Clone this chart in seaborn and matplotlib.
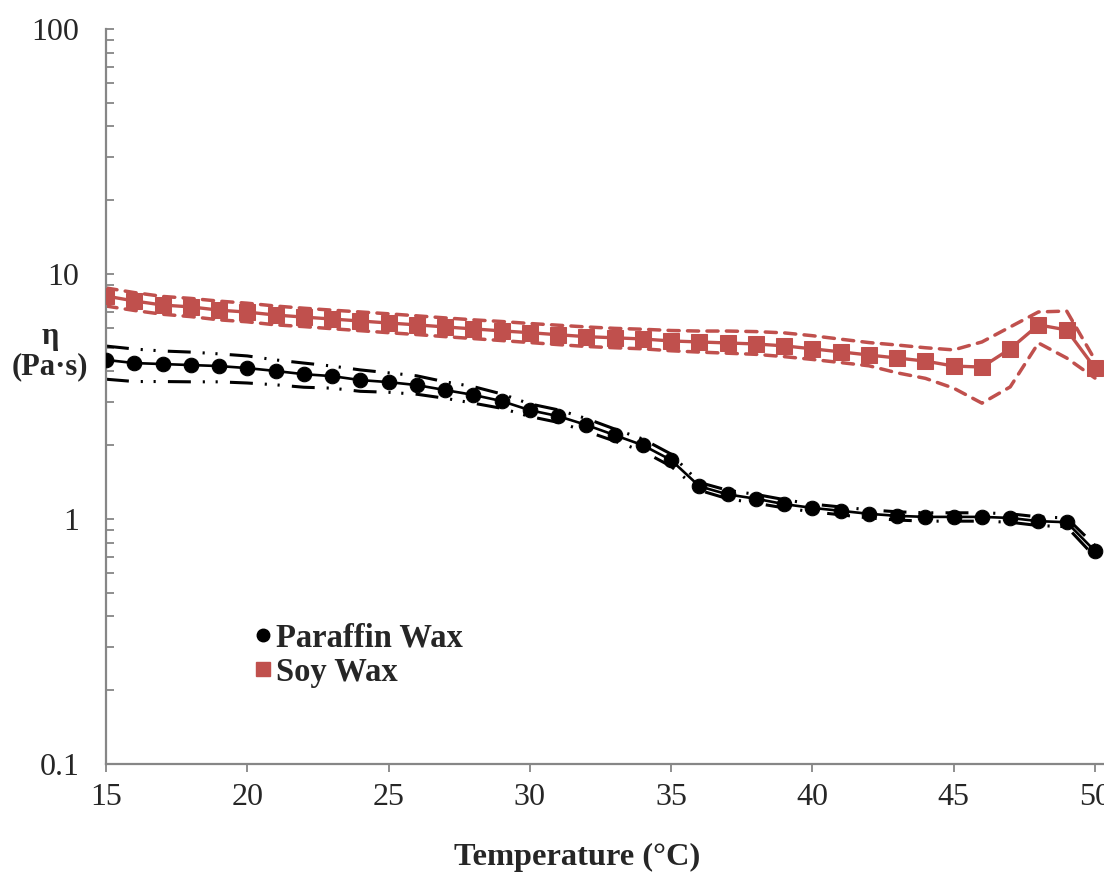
import matplotlib
matplotlib.use("Agg")
import matplotlib.pyplot as plt
import seaborn as sns
import numpy as np
from matplotlib.lines import Line2D
from matplotlib.ticker import LogLocator, FixedLocator, FixedFormatter, NullFormatter

# ---------------- data ----------------
temperature = [15, 16, 17, 18, 19, 20, 21, 22, 23, 24, 25, 26, 27, 28, 29, 30, 31, 32,
               33, 34, 35, 36, 37, 38, 39, 40, 41, 42, 43, 44, 45, 46, 47, 48, 49, 50]

paraffin = [4.46, 4.33, 4.29, 4.25, 4.21, 4.13, 4.02, 3.90, 3.83, 3.69, 3.62, 3.52,
            3.36, 3.21, 3.03, 2.78, 2.63, 2.42, 2.20, 2.00, 1.74, 1.36, 1.26, 1.21,
            1.15, 1.11, 1.08, 1.05, 1.03, 1.02, 1.02, 1.02, 1.01, 0.98, 0.97, 0.74]
paraffin_upper = [5.08, 4.94, 4.85, 4.80, 4.72, 4.63, 4.46, 4.33, 4.21, 4.06, 3.95, 3.84,
                  3.63, 3.47, 3.24, 2.95, 2.79, 2.57, 2.33, 2.12, 1.84, 1.41, 1.31, 1.26,
                  1.20, 1.15, 1.12, 1.09, 1.07, 1.06, 1.06, 1.06, 1.05, 1.02, 1.01, 0.78]
paraffin_lower = [3.72, 3.64, 3.64, 3.63, 3.63, 3.59, 3.53, 3.45, 3.42, 3.32, 3.29, 3.23,
                  3.11, 2.97, 2.83, 2.62, 2.48, 2.28, 2.08, 1.89, 1.64, 1.31, 1.21, 1.16,
                  1.11, 1.07, 1.04, 1.01, 0.99, 0.98, 0.98, 0.98, 0.97, 0.94, 0.93, 0.70]

soy = [8.13, 7.76, 7.47, 7.34, 7.12, 6.99, 6.80, 6.67, 6.55, 6.43, 6.31, 6.20,
       6.08, 5.97, 5.86, 5.76, 5.65, 5.55, 5.49, 5.43, 5.33, 5.28, 5.23, 5.18,
       5.09, 4.95, 4.81, 4.67, 4.54, 4.41, 4.21, 4.17, 4.95, 6.20, 5.91, 4.13]
soy_upper = [8.77, 8.40, 8.10, 7.95, 7.75, 7.60, 7.40, 7.25, 7.12, 7.00, 6.88, 6.75,
             6.62, 6.50, 6.40, 6.28, 6.18, 6.08, 6.00, 5.95, 5.88, 5.85, 5.85, 5.82,
             5.75, 5.60, 5.42, 5.25, 5.13, 5.00, 4.90, 5.28, 6.08, 7.00, 7.06, 4.46]
soy_lower = [7.40, 7.10, 6.85, 6.70, 6.50, 6.38, 6.20, 6.10, 5.98, 5.87, 5.76, 5.66,
             5.55, 5.45, 5.35, 5.25, 5.15, 5.06, 5.00, 4.95, 4.86, 4.80, 4.75, 4.70,
             4.60, 4.48, 4.35, 4.22, 3.95, 3.75, 3.42, 2.97, 3.46, 5.23, 4.54, 3.76]

x_ticks = [15, 20, 25, 30, 35, 40, 45, 50]
y_ticks = [0.1, 1, 10, 100]
y_tick_labels = ["0.1", "1", "10", "100"]
legend_labels = ["Paraffin Wax", "Soy Wax"]

# ---------------- style ----------------
sns.set_style("white")
plt.rcParams["font.family"] = ["Liberation Serif", "DejaVu Serif"]

RED = "#C0504D"
BLACK = "#000000"
GRAY = "#868686"

fig = plt.figure(figsize=(11.04, 8.80), dpi=100)
ax = fig.add_axes([106 / 1104, 1 - 764 / 880, 1 - 106 / 1104, (764 - 29) / 880])

# soy bounds (dashed)
for arr in (soy_upper, soy_lower):
    sns.lineplot(x=temperature, y=arr, ax=ax, color=RED, linewidth=2.5, zorder=2)
    ln = ax.lines[-1]
    ln.set_dashes((3.2, 2.4))
    ln.set_dash_capstyle("round")

# paraffin bounds (long dash dot dot)
for arr in (paraffin_upper, paraffin_lower):
    sns.lineplot(x=temperature, y=arr, ax=ax, color=BLACK, linewidth=2.2, zorder=2)
    ln = ax.lines[-1]
    ln.set_dashes((7.5, 3.9, 0.7, 3.5, 0.7, 4.0))

# main series
sns.lineplot(x=temperature, y=soy, ax=ax, color=RED, linewidth=2.4, marker="s",
             markersize=11.5, markeredgecolor=RED, zorder=4)
sns.lineplot(x=temperature, y=paraffin, ax=ax, color=BLACK, linewidth=1.9, marker="o",
             markersize=10.5, markeredgecolor=BLACK, zorder=4)

ax.set_yscale("log")
ax.set_ylim(0.1, 100)
ax.set_xlim(15, 50.32)

ax.yaxis.set_major_locator(FixedLocator(y_ticks))
ax.yaxis.set_major_formatter(FixedFormatter(y_tick_labels))
ax.yaxis.set_minor_locator(LogLocator(base=10, subs=np.arange(2, 10)))
ax.yaxis.set_minor_formatter(NullFormatter())
ax.set_xticks(x_ticks)
ax.set_xticklabels([str(t) for t in x_ticks])

ax.tick_params(axis="y", which="both", direction="in", length=5.5, width=1.3,
               color=GRAY, labelsize=23, pad=19, left=True)
ax.tick_params(axis="x", which="major", direction="out", length=6, width=1.3,
               color=GRAY, labelsize=23, pad=8, bottom=True)
ax.tick_params(axis="x", which="minor", bottom=False)

for side in ("top", "right"):
    ax.spines[side].set_visible(False)
for side in ("left", "bottom"):
    ax.spines[side].set_color(GRAY)
    ax.spines[side].set_linewidth(1.6)

ax.set_xlabel("")
ax.set_ylabel("")
ax.grid(False)

fig.text(50 / 1104, 1 - 352 / 880, "η\n(Pa·s)", ha="center", va="center",
         fontsize=22, fontweight="bold", linespacing=1.05)
fig.text(577 / 1104, 1 - 857 / 880, "Temperature (°C)", ha="center", va="center",
         fontsize=23.3, fontweight="bold")

handles = [
    Line2D([], [], marker="o", color=BLACK, linestyle="none", markersize=9),
    Line2D([], [], marker="s", color=RED, linestyle="none", markersize=10),
]
leg = ax.legend(handles, legend_labels, loc="center left",
                bbox_to_anchor=(252 / 1104, 1 - 655 / 880),
                bbox_transform=fig.transFigure, frameon=False,
                prop={"size": 23.5, "weight": "bold"}, borderpad=0, borderaxespad=0,
                handlelength=0.7, handletextpad=0.05, labelspacing=0.1)

fig.savefig("out.png", dpi=100)
